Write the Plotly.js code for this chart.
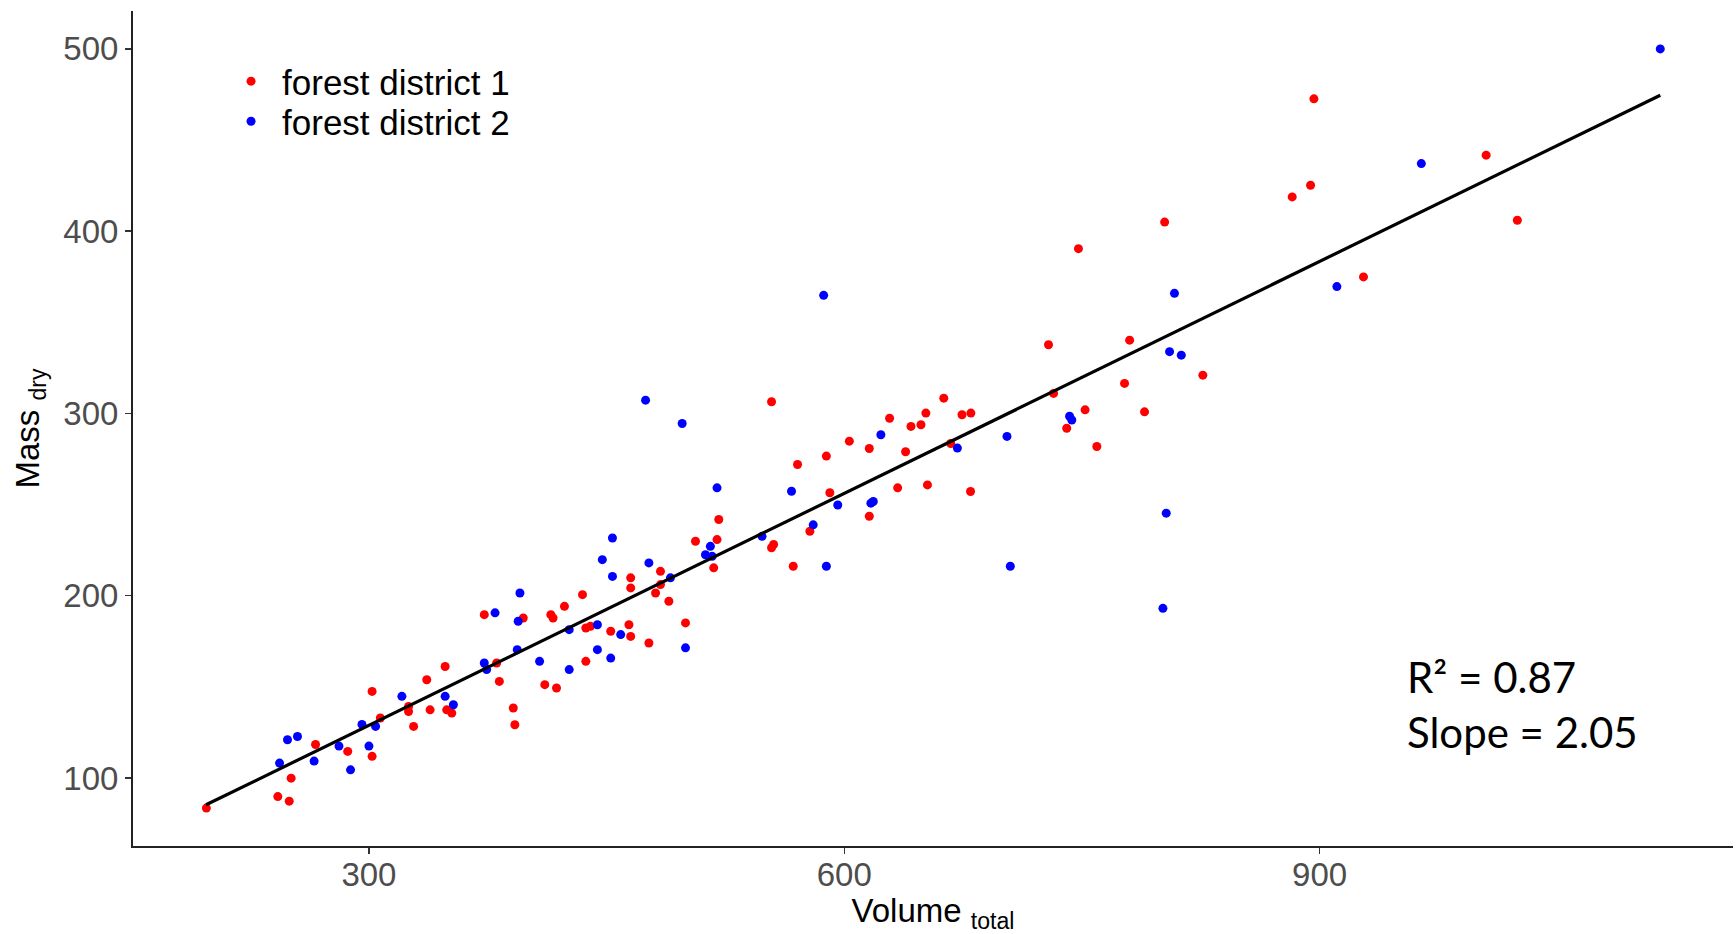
<!DOCTYPE html>
<html>
<head>
<meta charset="utf-8">
<script src="https://cdn.plot.ly/plotly-3.0.1.min.js"></script>
<style>html,body{margin:0;padding:0;background:#fff;}#chart{width:1736px;height:934px;}</style>
</head>
<body>
<div id="chart"></div>
<script>
// forest district 1 (red)
const d1Volume = [197.4,242.5,249.7,250.9,266.3,286.6,302.0,302.0,307.2,325.0,325.0,328.2,336.5,338.6,348.1,349.1,352.3,372.8,380.6,382.3,391.1,392.1,
  397.4,411.0,418.4,414.8,416.2,423.4,434.8,436.9,439.8,436.9,452.6,464.1,465.2,465.2,465.2,476.7,480.9,484.0,484.0,489.3,499.8,506.1,517.6,519.7,520.8,554.1,554.1,555.4,567.8,570.5,
  578.3,588.7,590.9,603.2,615.8,615.8,628.6,633.7,638.7,642.1,648.4,651.5,652.5,662.8,667.2,674.3,679.9,679.7,728.9,732.1,740.4,752.0,759.4,
  747.8,776.9,780.1,789.5,802.2,826.3,882.7,894.3,896.4,1005.1,1024.8,927.7];
const d1Mass = [83.5,89.8,87.3,99.9,118.4,114.6,111.9,147.5,132.9,139.3,136.5,128.3,153.9,137.4,161.2,137.4,135.6,189.6,163.1,153.0,138.4,129.2,
  187.8,151.2,149.4,189.6,187.8,194.2,200.6,182.3,183.2,164.0,180.5,184.1,177.7,209.8,204.3,174.1,201.5,213.4,206.1,197.0,185.1,229.9,215.3,230.8,241.8,306.4,226.3,228.1,216.2,272.0,
  235.4,276.6,256.5,284.8,280.8,243.6,297.4,259.2,279.0,292.9,293.8,300.2,260.8,308.4,283.5,299.3,300.2,257.2,337.7,311.0,291.9,302.0,281.9,
  390.4,316.5,340.2,300.9,405.0,321.0,418.8,425.2,472.6,441.7,406.0,374.9];
// forest district 2 (blue)
const d2Volume = [243.6,248.6,254.9,265.4,281.1,288.4,295.6,300.0,304.2,320.8,348.1,353.3,372.8,374.3,379.6,393.6,394.2,395.3,
  407.7,426.4,426.4,444.2,444.2,452.6,447.3,453.7,453.7,458.9,474.6,476.7,490.3,497.7,499.8,512.4,515.5,516.6,519.7,548.1,566.7,
  580.4,588.7,595.9,616.8,618.3,623.1,671.4,702.7,704.8,742.2,743.6,587.0,
  803.2,801.1,805.3,812.7,808.4,964.2,1115.0,910.9];
const d2Mass = [108.2,121.0,122.8,109.3,117.5,104.5,129.4,117.5,128.3,144.8,144.8,140.2,163.1,159.5,190.6,170.4,186.0,201.5,
  164.0,181.4,159.5,184.1,170.4,165.8,219.8,231.7,210.6,178.7,307.3,218.0,209.8,294.5,171.4,222.5,227.1,221.6,259.2,232.6,257.3,
  238.9,216.2,249.8,250.8,251.7,288.3,281.0,287.4,216.2,298.5,296.4,364.8,
  245.3,193.1,333.9,332.0,365.9,437.1,500.0,369.6];
// fitted line end points
const fitVolume = [197.2, 1115.0];
const fitMass = [85.3, 474.6];
const xTicks = [300, 600, 900];
const yTicks = [100, 200, 300, 400, 500];
const statsText = "R² = 0.87<br>Slope = 2.05";

const traces = [
  {x: d1Volume, y: d1Mass, type: 'scatter', mode: 'markers', name: 'forest district 1', legend: 'legend',
   marker: {color: '#FF0000', size: 9}},
  {x: d2Volume, y: d2Mass, type: 'scatter', mode: 'markers', name: 'forest district 2', legend: 'legend2',
   marker: {color: '#0000FF', size: 9}},
  {x: fitVolume, y: fitMass, type: 'scatter', mode: 'lines', showlegend: false,
   line: {color: '#000000', width: 3.2}, hoverinfo: 'skip'}
];

const legFont = {family: 'Liberation Sans, Arial, sans-serif', size: 35, color: '#000000'};
const tickFont = {family: 'Liberation Sans, Arial, sans-serif', size: 33, color: '#4d4d4d'};
const layout = {
  width: 1736, height: 934,
  margin: {l: 133, r: 3, t: 11, b: 88},
  paper_bgcolor: '#ffffff', plot_bgcolor: '#ffffff',
  showlegend: true,
  legend: {x: 0.0544, y: 0.951, xanchor: 'left', yanchor: 'top', font: legFont,
    bgcolor: 'rgba(0,0,0,0)', itemwidth: 52},
  legend2: {x: 0.0544, y: 0.903, xanchor: 'left', yanchor: 'top', font: legFont,
    bgcolor: 'rgba(0,0,0,0)', itemwidth: 52},
  xaxis: {range: [151.1, 1160.9], tickvals: xTicks, ticktext: xTicks.map(String),
    showgrid: false, zeroline: false, showline: true, linecolor: '#222', linewidth: 2,
    ticks: 'outside', ticklen: 6, tickwidth: 1.5, tickcolor: '#333', tickfont: tickFont,
    ticklabelstandoff: -8,
    title: {text: 'Volume <sub>total</sub>', standoff: 16,
      font: {family: 'Liberation Sans, Arial, sans-serif', size: 33, color: '#000000'}}},
  yaxis: {range: [62.7, 520.8], tickvals: yTicks, ticktext: yTicks.map(String),
    showgrid: false, zeroline: false, showline: true, linecolor: '#222', linewidth: 2,
    ticks: 'outside', ticklen: 6, tickwidth: 1.5, tickcolor: '#333', tickfont: tickFont,
    title: {text: 'Mass <sub>dry</sub>', standoff: 14,
      font: {family: 'Liberation Sans, Arial, sans-serif', size: 33, color: '#000000'}}},
  annotations: [{x: 954, y: 170, xref: 'x', yref: 'y', xanchor: 'left', yanchor: 'top',
    text: statsText, showarrow: false, align: 'left',
    font: {family: 'Lato, sans-serif', size: 42, color: '#000000'}}]
};
Plotly.newPlot('chart', traces, layout, {displayModeBar: false, staticPlot: true});
</script>
</body>
</html>
